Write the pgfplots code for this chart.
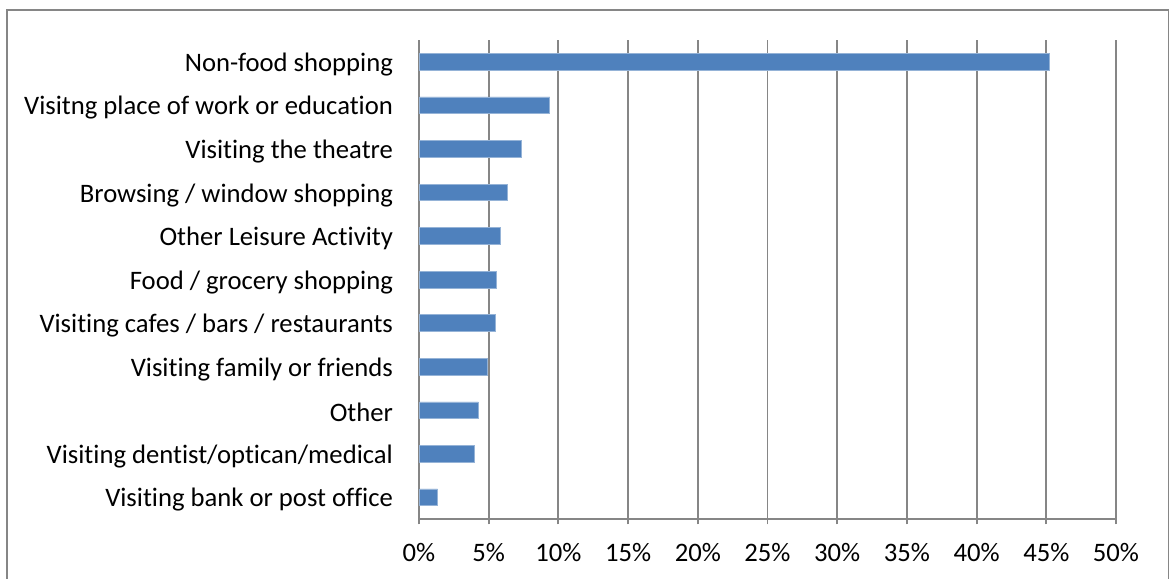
\documentclass[border=0pt]{standalone}
\usepackage{pgfplots}
\pgfplotsset{compat=1.18}
\usepackage{fontspec}
\setmainfont[Ligatures=NoCommon]{Carlito}
\definecolor{barblue}{HTML}{4F81BD}
\definecolor{gridgray}{HTML}{868686}
\begin{document}
\begin{tikzpicture}[x=1pt,y=1pt]
\useasboundingbox (0,0) rectangle (877.5,433.5);
\draw[gridgray,line width=1.1pt] (5.25,-5) rectangle (876.5,426);
\begin{axis}[
  at={(314.25pt,44.25pt)}, anchor=south west,
  scale only axis, width=522.75pt, height=359.25pt,
  xbar, bar width=12.5pt,
  xmin=0, xmax=50, ymin=-0.5, ymax=10.5,
  xtick={0,5,...,50},
  xticklabels={0\%,5\%,10\%,15\%,20\%,25\%,30\%,35\%,40\%,45\%,50\%},
  ytick={0,...,10},
  yticklabels={Visiting bank or post office,Visiting dentist/optican/medical,Other,Visiting family or friends,Visiting cafes / bars / restaurants,Food / grocery shopping,Other Leisure Activity,Browsing / window shopping,Visiting the theatre,Visitng place of work or education,Non-food shopping},
  minor ytick={-0.5,0.5,...,10.5},
  ytick style={draw=none},
  minor y tick style={gridgray, line width=1.4pt},
  x tick style={gridgray, line width=1.4pt},
  tick align=outside,
  major tick length=4pt, minor tick length=4pt,
  xmajorgrids, grid style={gridgray, line width=1.4pt},
  axis x line*=bottom, axis y line*=left,
  axis line style={gridgray, line width=1.4pt, -},
  ticklabel style={font=\fontsize{20}{24}\selectfont, text=black},
  yticklabel style={xshift=-12pt, yshift=-2pt},
  xticklabel style={yshift=-11pt},
  tick label style={/pgf/number format/assume math mode=true},
  clip=false,
]
\addplot[fill=barblue, draw=barblue!60!white, line width=0.4pt] coordinates {
 (1.34,0) (3.97,1) (4.26,2) (4.88,3) (5.48,4) (5.55,5) (5.86,6) (6.36,7) (7.37,8) (9.38,9) (45.2,10)
};
\end{axis}
\end{tikzpicture}
\end{document}
